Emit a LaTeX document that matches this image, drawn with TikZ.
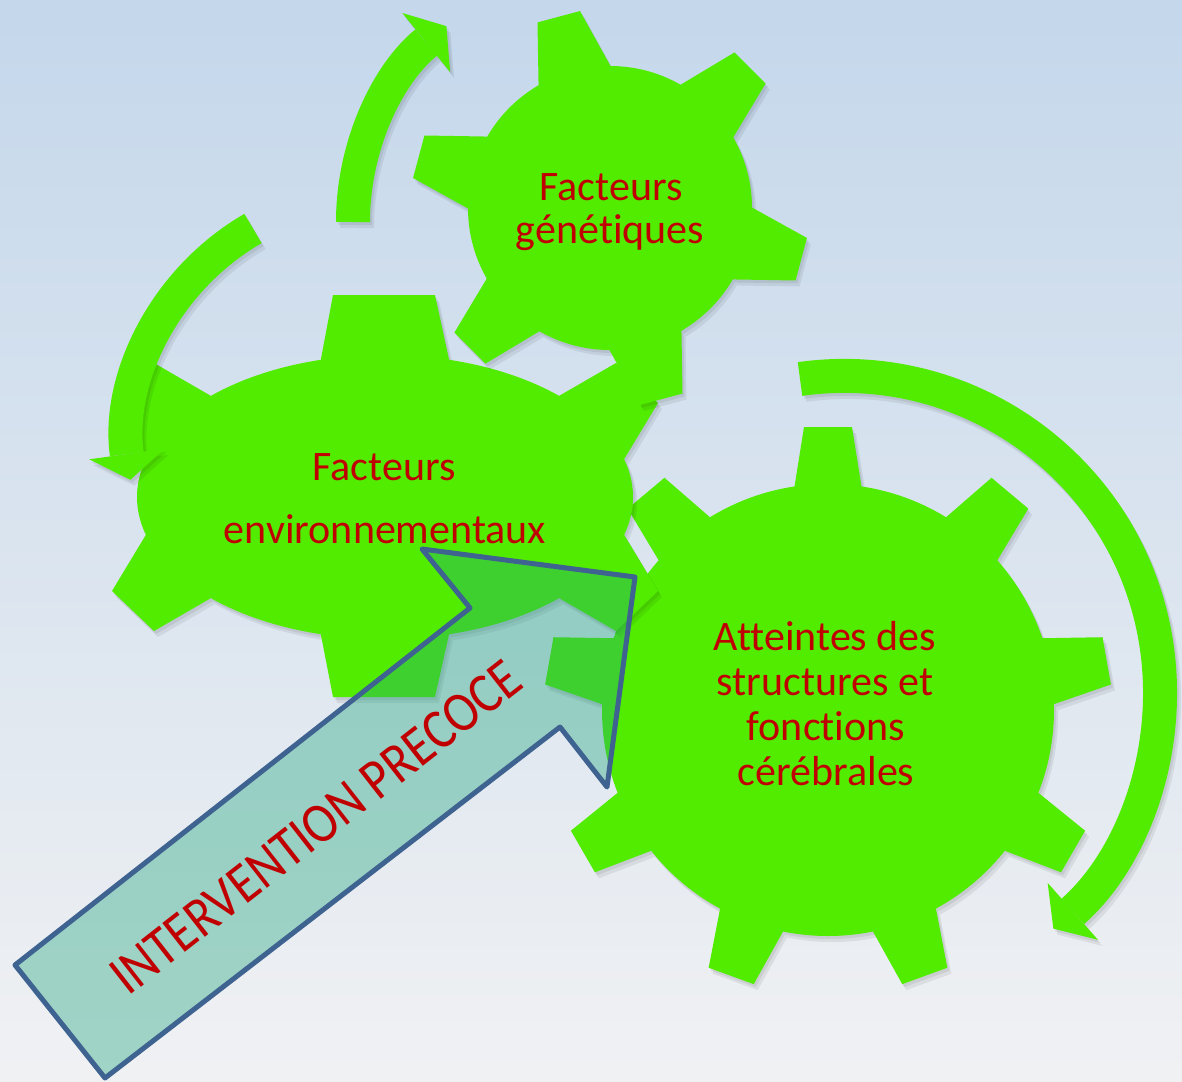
\documentclass[tikz,border=0pt]{standalone}
\usepackage{fontspec}
\usepackage{graphicx}
\setmainfont{Carlito}[Ligatures={NoCommon}]
\usetikzlibrary{arrows.meta}
\definecolor{gearg}{RGB}{82,236,0}
\definecolor{txtred}{RGB}{192,0,0}
\definecolor{bgtop}{RGB}{196,215,235}
\definecolor{bgbot}{RGB}{240,241,243}
\definecolor{arrline}{RGB}{62,99,144}
\definecolor{arrteal}{RGB}{30,165,125}
\tikzset{
  gfill/.style={fill=gearg},
  garc/.style={draw=#1, line width=17pt, line cap=butt,
    -{Triangle[length=13pt,width=38pt,line width=0pt,fill=#1]}},
  gtext/.style={text=txtred, font=\fontsize{21}{25}\selectfont, anchor=base, inner sep=0pt},
  bigarrow/.style={draw=arrline, line width=2.5pt, line join=round,
    fill=arrteal, fill opacity=0.38},
  shadowA/.style={transparency group, opacity=0.07, shift={(2,3)}},
  shadowB/.style={transparency group, opacity=0.07, shift={(4,6)}}
}
% cx cy R Ro hb ht n a0
\newcommand\roundgear[8]{%
  \fill[gfill] (#1,#2) circle[radius=#3];
  \foreach \k in {1,...,#7}{%
    \pgfmathsetmacro\gang{#8+360/#7*(\k-1)}%
    \fill[gfill, shift={(#1,#2)}, rotate=\gang]
      (#3-12,-#5) -- (#4,-#6) -- (#4,#6) -- (#3-12,#5) -- cycle;
  }%
}
\newcommand\gearRight{\roundgear{828}{710}{226}{283}{35}{24}{9}{90}}
\newcommand\gearTop{\roundgear{610}{208}{142}{198}{39}{22}{6}{105}}
\newcommand\gearLeft{%
  \fill[gfill] (385,497) ellipse[x radius=248, y radius=142];
  \fill[gfill] (320,364) -- (333,295) -- (435,295) -- (450,364) -- cycle;
  \fill[gfill] (320,630) -- (333,697) -- (435,697) -- (450,630) -- cycle;
  \fill[gfill] (552,400) -- (616,363) -- (658,403) -- (620,466) -- cycle;
  \fill[gfill] (552,594) -- (616,631) -- (658,591) -- (620,528) -- cycle;
  \fill[gfill] (218,400) -- (154,363) -- (112,403) -- (150,466) -- cycle;
  \fill[gfill] (218,594) -- (154,631) -- (112,591) -- (150,528) -- cycle;
}
\newcommand\greenarcs[1]{%
  \draw[garc=#1] (353,222) arc[start angle=180, end angle=231, radius=252];
  \draw[garc=#1] (253,228.5) arc[start angle=240, end angle=172, radius=250];
  \draw[garc=#1] (800,379) arc[start angle=-98, end angle=48.5, radius=316];
}
\newcommand\shadowed[1]{%
  \begin{scope}[shadowB, gfill/.style={fill=black}] #1 \end{scope}
  \begin{scope}[shadowA, gfill/.style={fill=black}] #1 \end{scope}
  #1
}
\begin{document}
\begin{tikzpicture}[x=0.5pt, y=-0.5pt]
\useasboundingbox (0,0) rectangle (1182,1081);
\shade[top color=bgtop, bottom color=bgbot] (0,0) rectangle (1182,1081);

% gears (right, left, top)
\shadowed{\gearRight}
\shadowed{\gearLeft}
\shadowed{\gearTop}

% curved arrows
\begin{scope}[shadowB] \greenarcs{black} \end{scope}
\begin{scope}[shadowA] \greenarcs{black} \end{scope}
\greenarcs{gearg}

% block arrow
\draw[bigarrow] (15,965) -- (470,608) -- (422,549) -- (635,577) -- (607,787)
  -- (560,727) -- (105,1078) -- cycle;

% texts
\node[gtext] (ga1) at (611,200) {Facteurs};
\node[gtext] (ga2) at (610,243) {génétiques};
\node[gtext] (gb1) at (384,480) {Facteurs};
\node[gtext] (gb2) at (385,543) {environnementaux};
\node[gtext] (gc1) at (825,650) {Atteintes des};
\node[gtext] (gc2) at (825,695) {structures et};
\node[gtext] (gc3) at (826,740) {fonctions};
\node[gtext] (gc4) at (826,785) {cérébrales};
\node[rotate=38, text=txtred, inner sep=0pt,
  font=\fontsize{28.5}{30}\selectfont] (iv) at (316,827)
  {\scalebox{0.875}[1]{INTERVENTION PRECOCE}};
\end{tikzpicture}
\end{document}
